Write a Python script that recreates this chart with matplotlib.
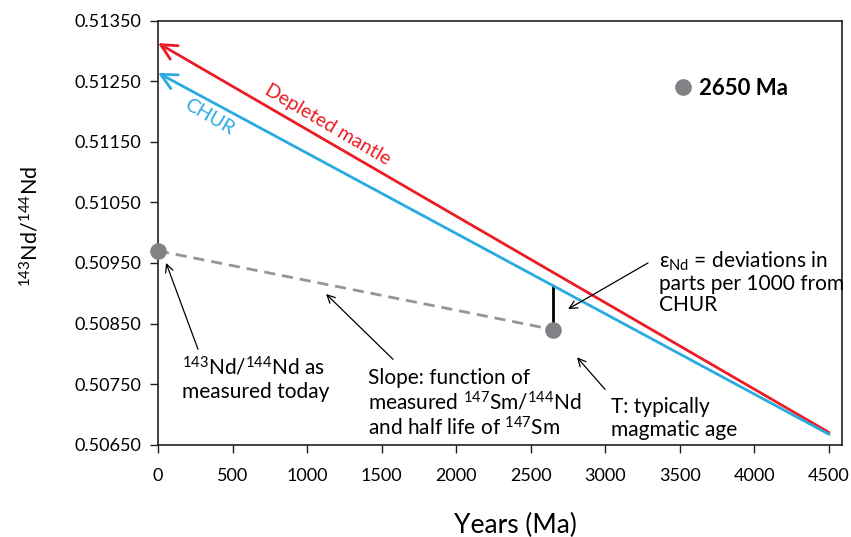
import matplotlib
matplotlib.use("Agg")
import matplotlib.pyplot as plt
from matplotlib.lines import Line2D

plt.rcParams['font.family'] = ['Lato', 'DejaVu Sans']
plt.rcParams['mathtext.fontset'] = 'custom'
plt.rcParams['mathtext.rm'] = 'Lato'
plt.rcParams['mathtext.it'] = 'Lato:italic'
plt.rcParams['mathtext.bf'] = 'Lato:bold'

# evolution lines (age in Ma, 143Nd/144Nd)
age_ends = [0, 4500]
chur = [0.512638, 0.50667]
depleted = [0.51313, 0.50670]

# sample: measured today and at crystallisation age
sample_age = [0, 2650]
sample_nd = [0.50970, 0.50840]
chur_at_t = 0.509123

x_ticks = [0, 500, 1000, 1500, 2000, 2500, 3000, 3500, 4000, 4500]
y_ticks = [0.5065, 0.5075, 0.5085, 0.5095, 0.5105, 0.5115, 0.5125, 0.5135]

RED = '#ec1c24'
BLUE = '#29abe2'
GREY = '#808285'

fig = plt.figure(figsize=(8.51, 5.37), dpi=100)
ax = fig.add_axes([0.1857, 0.172, 0.8037, 0.7895])

# mantle reservoirs, arrow pointing back to the present
for y, c in [(depleted, RED), (chur, BLUE)]:
    ax.annotate('', xy=(age_ends[0], y[0]), xytext=(age_ends[1], y[1]),
                arrowprops=dict(arrowstyle='->', color=c, lw=2,
                                mutation_scale=28, shrinkA=0, shrinkB=0))

ax.text(1140, 0.51178, 'Depleted mantle', color=RED, fontsize=14,
        rotation=-30.4, ha='center', va='center')
ax.text(342, 0.51191, 'CHUR', color=BLUE, fontsize=14,
        rotation=-30.4, ha='center', va='center')

# sample evolution back in time
ax.plot(sample_age, sample_nd, ls=(0, (4, 2.5)), color='#939598', lw=2, zorder=2)
ax.plot([sample_age[1], sample_age[1]], [sample_nd[1], chur_at_t],
        color='black', lw=2, zorder=2)
ax.scatter(sample_age, sample_nd, s=120, color=GREY, zorder=3, clip_on=False)

leg = ax.legend(handles=[Line2D([], [], marker='o', ls='', color=GREY, markersize=11)],
                labels=['2650 Ma'], loc='center left', bbox_to_anchor=(0.751, 0.8406),
                frameon=False, handletextpad=0.25, handlelength=1.0,
                borderpad=0, borderaxespad=0,
                prop=dict(weight='bold', size=16))

arrow = dict(arrowstyle='->', color='black', lw=0.9, mutation_scale=14,
             shrinkA=0, shrinkB=0)
fs = 15

ax.annotate('', xy=(54, 0.50950), xytext=(268, 0.508075), arrowprops=arrow)
ax.text(160, 0.50796, '$^{143}$Nd/$^{144}$Nd as\nmeasured today', fontsize=fs,
        va='top', ha='left', linespacing=1.15)

ax.annotate('', xy=(1127, 0.508987), xytext=(1576, 0.507909), arrowprops=arrow)
ax.text(1405, 0.50777, 'Slope: function of\nmeasured $^{147}$Sm/$^{144}$Nd\nand half life of $^{147}$Sm',
        fontsize=fs, va='top', ha='left', linespacing=1.15)

ax.annotate('', xy=(2810, 0.507942), xytext=(2998, 0.507412), arrowprops=arrow)
ax.text(3040, 0.50729, 'T: typically\nmagmatic age', fontsize=fs,
        va='top', ha='left', linespacing=1.22)

ax.annotate('', xy=(2750, 0.508738), xytext=(3286, 0.50950), arrowprops=arrow)
ax.text(3358, 0.50972, 'ε$_{\\mathrm{Nd}}$ = deviations in\nparts per 1000 from\nCHUR',
        fontsize=fs, va='top', ha='left', linespacing=1.08)

ax.set_xlim(0, 4587)
ax.set_ylim(0.5065, 0.5135)
ax.set_xticks(x_ticks)
ax.set_yticks(y_ticks)
ax.set_yticklabels([f'{v:.5f}' for v in y_ticks])
ax.tick_params(direction='out', length=6, width=1, labelsize=13, pad=6, color='#231f20')
ax.tick_params(axis='x', pad=11)
for s in ax.spines.values():
    s.set_linewidth(1.2)
    s.set_color('#231f20')

ax.set_xlabel('Years (Ma)', fontsize=19)
ax.xaxis.set_label_coords(0.523, -0.16)
ax.set_ylabel('$^{143}$Nd/$^{144}$Nd', fontsize=15.5)
ax.yaxis.set_label_coords(-0.17, 0.514)

fig.savefig('out.png', dpi=100)
